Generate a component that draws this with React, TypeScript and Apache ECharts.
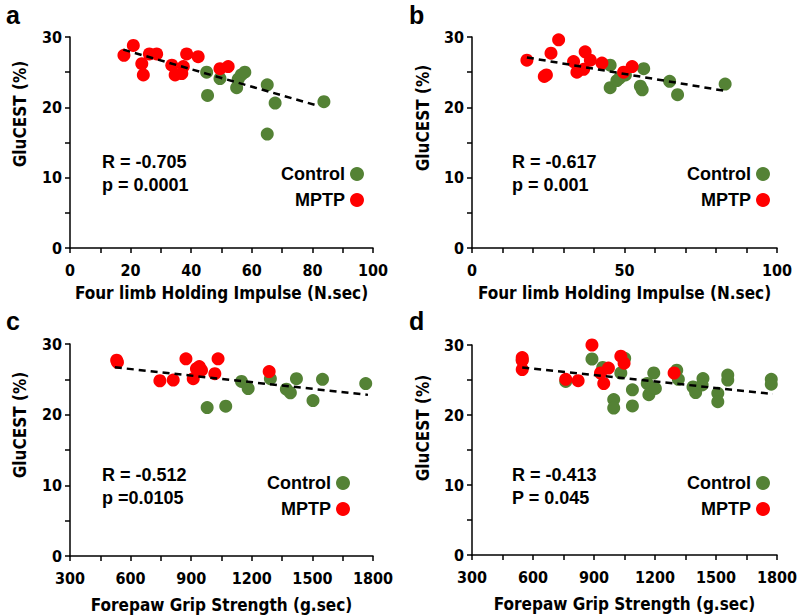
import React, { useEffect, useRef } from "react";
import * as echarts from "echarts";

const aControl = [[45.1,25.0],[45.4,21.7],[49.5,24.1],[55.0,22.8],[55.5,24.0],[56.5,24.6],[57.7,25.0],[65.1,23.2],[65.1,16.2],[67.7,20.6],[83.8,20.8]];
const aMPTP = [[17.8,27.4],[20.9,28.8],[23.7,26.2],[24.2,24.6],[26.2,27.6],[28.6,27.6],[33.6,26.0],[34.7,24.6],[36.9,24.8],[37.4,25.8],[38.5,27.6],[42.3,27.2],[49.5,25.5],[52.2,25.8]];
const aTrend = [[17.6,28.2],[82.0,20.2]];

const bControl = [[45.3,26.0],[45.3,22.8],[47.5,23.8],[48.5,24.2],[50.3,24.6],[55.2,23.0],[55.8,22.5],[56.3,25.5],[64.8,23.7],[67.4,21.8],[83.0,23.3]];
const bMPTP = [[18.0,26.7],[23.7,24.4],[24.4,24.6],[25.9,27.7],[28.4,29.6],[33.3,26.5],[34.4,25.0],[36.6,25.4],[37.1,27.9],[38.8,26.7],[42.6,26.3],[49.7,25.0],[52.5,25.8]];
const bTrend = [[18.0,27.1],[83.4,22.3]];

const cControl = [[979,21.0],[1071,21.2],[1149,24.7],[1182,23.7],[1292,25.1],[1371,23.6],[1391,23.1],[1421,25.1],[1503,22.0],[1550,25.0],[1764,24.4]];
const cMPTP = [[531,27.7],[535,27.4],[745,24.8],[811,24.9],[874,27.9],[910,25.1],[926,26.5],[940,26.8],[951,26.3],[1017,25.8],[1033,27.9],[1286,26.1]];
const cTrend = [[522,26.7],[1775,22.8]];

const dControl = [[547,27.9],[761,24.8],[890,28.0],[943,26.8],[997,22.2],[997,21.0],[1032,26.0],[1051,28.1],[1089,23.6],[1089,21.3],[1162,24.5],[1170,22.9],[1194,26.0],[1202,23.8],[1307,26.4],[1315,25.1],[1387,24.0],[1400,23.2],[1436,25.2],[1432,24.3],[1509,23.1],[1509,21.9],[1558,25.7],[1558,25.0],[1772,25.1],[1772,24.4]];
const dMPTP = [[547,28.2],[547,27.8],[547,26.5],[761,25.1],[822,24.9],[890,30.0],[932,26.0],[948,24.5],[971,26.7],[1032,28.4],[1048,27.4],[1294,26.0]];
const dTrend = [[547,26.8],[1780,23.0]];

const panelLetters = ["a", "b", "c", "d"];
const rLabels = ["R = -0.705", "R = -0.617", "R = -0.512", "R = -0.413"];
const pLabels = ["p = 0.0001", "p = 0.001", "p =0.0105", "P = 0.045"];
const xNames = ["Four limb Holding Impulse (N.sec)", "Four limb Holding Impulse (N.sec)", "Forepaw Grip Strength (g.sec)", "Forepaw Grip Strength (g.sec)"];
const yName = "GluCEST (%)";
const seriesNames = ["Control", "MPTP"];

const GREEN = "#548235";
const RED = "#ff0000";
const NARROW = "'Liberation Sans Narrow', 'Arial Narrow', 'DejaVu Sans Condensed', sans-serif";
const SANS = "'Liberation Sans', Arial, sans-serif";

export default function App() {
  const ref = useRef<HTMLDivElement>(null);
  useEffect(() => {
    if (!ref.current) return;
    const chart = echarts.init(ref.current, null, { renderer: "svg" });

    const controls = [aControl, bControl, cControl, dControl];
    const mptps = [aMPTP, bMPTP, cMPTP, dMPTP];
    const trends = [aTrend, bTrend, cTrend, dTrend];

    const grids = [
      { left: 70, top: 37, width: 303, height: 211 },
      { left: 472, top: 37, width: 305, height: 211 },
      { left: 70, top: 344, width: 303, height: 212 },
      { left: 472, top: 345, width: 309, height: 210 },
    ];
    const xCfg = [
      { min: 0, max: 100, interval: 10, every: 20, gap: 36 },
      { min: 0, max: 100, interval: 10, every: 50, gap: 36 },
      { min: 300, max: 1800, interval: 150, every: 300, gap: 40 },
      { min: 300, max: 1800, interval: 150, every: 300, gap: 40 },
    ];
    const letterPos = [[6, 2], [409, 2], [6, 308], [409, 308]];
    const yNamePos = [[20, 114], [423, 118], [20, 425], [423, 428]];
    const annPos = [[102, 162], [512, 162], [102, 475], [512, 475]];
    const legendPos = [
      { right: 431, top: 160 },
      { right: 25, top: 160 },
      { right: 445, top: 469 },
      { right: 25, top: 469 },
    ];

    const axisLine = { lineStyle: { color: "#000", width: 1.5 } };
    const axisTick = { length: 5, lineStyle: { color: "#000", width: 1.5 } };

    const xAxis = xCfg.map((c, i) => ({
      type: "value",
      gridIndex: i,
      min: c.min,
      max: c.max,
      interval: c.interval,
      splitLine: { show: false },
      axisLine,
      axisTick,
      axisLabel: {
        margin: 14,
        color: "#000",
        fontFamily: NARROW,
        fontWeight: "bold",
        fontSize: 16,
        formatter: (v: number) => (v % c.every === 0 ? String(v) : ""),
      },
      name: xNames[i],
      nameLocation: "middle",
      nameGap: c.gap,
      nameTextStyle: { color: "#000", fontFamily: NARROW, fontWeight: "bold", fontSize: 17 },
    }));

    const yAxis = grids.map((_, i) => ({
      type: "value",
      gridIndex: i,
      min: 0,
      max: 30,
      interval: 5,
      splitLine: { show: false },
      axisLine: { show: true, ...axisLine },
      axisTick: { show: true, ...axisTick },
      axisLabel: {
        margin: 8,
        color: "#000",
        fontFamily: NARROW,
        fontWeight: "bold",
        fontSize: 16,
        formatter: (v: number) => (v % 10 === 0 ? String(v) : ""),
      },
    }));

    const series: any[] = [];
    for (let i = 0; i < 4; i++) {
      series.push({
        name: seriesNames[0],
        type: "scatter",
        xAxisIndex: i,
        yAxisIndex: i,
        symbol: "circle",
        symbolSize: 13,
        itemStyle: { color: GREEN, opacity: 1 },
        data: controls[i],
        z: 2,
      });
      series.push({
        name: seriesNames[1],
        type: "scatter",
        xAxisIndex: i,
        yAxisIndex: i,
        symbol: "circle",
        symbolSize: 13,
        itemStyle: { color: RED, opacity: 1 },
        data: mptps[i],
        z: 3,
      });
      series.push({
        name: "trend" + i,
        type: "line",
        xAxisIndex: i,
        yAxisIndex: i,
        showSymbol: false,
        symbol: "none",
        lineStyle: { color: "#000", width: 2.5, type: [7, 5] },
        data: trends[i],
        z: 4,
        silent: true,
      });
    }

    const legend = legendPos.map((p) => ({
      data: seriesNames,
      orient: "vertical",
      align: "right",
      right: p.right,
      top: p.top,
      icon: "circle",
      itemWidth: 14,
      itemHeight: 14,
      itemGap: 8,
      itemTextGap: 16,
      textStyle: { color: "#000", fontFamily: SANS, fontWeight: "bold", fontSize: 18 },
      selectedMode: false,
    }));

    const graphic: any[] = [];
    for (let i = 0; i < 4; i++) {
      graphic.push({
        type: "text",
        left: letterPos[i][0],
        top: letterPos[i][1],
        style: { text: panelLetters[i], fill: "#000", font: `bold 25px ${SANS}` },
      });
      graphic.push({
        type: "text",
        x: yNamePos[i][0],
        y: yNamePos[i][1],
        rotation: Math.PI / 2,
        style: {
          text: yName,
          fill: "#000",
          font: `bold 17px ${NARROW}`,
          align: "center",
          verticalAlign: "middle",
        },
      });
      graphic.push({
        type: "text",
        x: annPos[i][0],
        y: annPos[i][1],
        style: {
          text: rLabels[i],
          fill: "#000",
          font: `bold 18px ${SANS}`,
          align: "left",
          verticalAlign: "middle",
        },
      });
      graphic.push({
        type: "text",
        x: annPos[i][0],
        y: annPos[i][1] + 23,
        style: {
          text: pLabels[i],
          fill: "#000",
          font: `bold 18px ${SANS}`,
          align: "left",
          verticalAlign: "middle",
        },
      });
    }

    chart.setOption({
      animation: false,
      backgroundColor: "#fff",
      grid: grids,
      xAxis,
      yAxis,
      series,
      legend,
      graphic,
    });
    return () => chart.dispose();
  }, []);

  return (
    <div
      ref={ref}
      style={{ position: "fixed", left: 0, top: 0, width: 800, height: 616, background: "#fff" }}
    />
  );
}
